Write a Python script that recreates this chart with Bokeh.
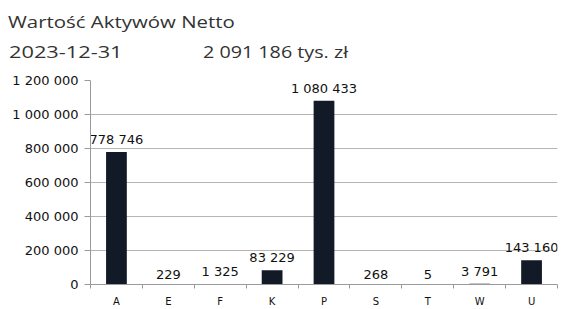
from bokeh.plotting import figure
from bokeh.models import FixedTicker, Range1d, ColumnDataSource, Div
from bokeh.layouts import column
from bokeh.core.properties import value
from bokeh.embed import file_html
from bokeh.resources import INLINE

title_text = "Wartość Aktywów Netto"
date_text = "2023-12-31"
total_text = "2 091 186 tys. zł"

categories = ["A", "E", "F", "K", "P", "S", "T", "W", "U"]
values = [778746, 229, 1325, 83229, 1080433, 268, 5, 3791, 143160]
y_ticks = [0, 200000, 400000, 600000, 800000, 1000000, 1200000]


def fmt(v):
    return f"{v:,}".replace(",", " ")


W, H_HEAD, H_CHART = 561, 62, 247

# ---- header ----
span = ("position:absolute;left:{x}px;top:{y}px;white-space:nowrap;line-height:17px;"
        "transform:scaleX({s});transform-origin:left top;")
html = (
    f'<div style="position:relative;width:{W}px;height:{H_HEAD}px;'
    "font-family:'Open Sans';font-size:17px;color:#333333;\">"
    f'<span style="{span.format(x=8, y=13, s=1.2)}">{title_text}</span>'
    f'<span style="{span.format(x=9, y=43, s=1.28)}">{date_text}</span>'
    f'<span style="{span.format(x=203, y=43, s=1.16)}">{total_text}</span>'
    "</div>"
)
head = Div(text=html, width=W, height=H_HEAD, margin=0)

# ---- chart ----
xs = [i + 0.5 for i in range(len(categories))]
src = ColumnDataSource(dict(x=xs, top=values, label=[fmt(v) for v in values]))

p = figure(width=W, height=H_CHART, output_backend="svg", toolbar_location=None,
           x_range=Range1d(0, len(categories)), y_range=Range1d(0, y_ticks[-1]),
           min_border_left=90, min_border_right=4, min_border_top=18, min_border_bottom=0,
           margin=0)
p.outline_line_color = None
p.background_fill_color = "white"
p.border_fill_color = "white"

p.vbar(x="x", top="top", width=0.4, source=src, fill_color="#121a28", line_color=None)
p.text(x="x", y="top", text="label", source=src, text_align="center", text_baseline="bottom",
       y_offset=-5, text_font_size="13px", text_color="#111111", text_font=value("DejaVu Sans"))

xa = p.xaxis[0]
xa.ticker = FixedTicker(ticks=xs, minor_ticks=list(range(len(categories) + 1)))
xa.major_label_overrides = {x: c for x, c in zip(xs, categories)}
xa.major_tick_line_color = None
xa.minor_tick_line_color = "#9a9a9a"
xa.minor_tick_out = 4
xa.minor_tick_in = 0
xa.axis_line_color = "#9a9a9a"
xa.major_label_text_font = "DejaVu Sans"
xa.major_label_text_font_size = "10px"
xa.major_label_text_color = "#111111"
xa.major_label_standoff = 5

ya = p.yaxis[0]
ya.ticker = FixedTicker(ticks=y_ticks)
ya.major_label_overrides = {t: fmt(t) for t in y_ticks}
ya.major_tick_out = 6
ya.major_tick_in = 0
ya.major_tick_line_color = "#9a9a9a"
ya.minor_tick_line_color = None
ya.axis_line_color = "#9a9a9a"
ya.major_label_text_font = "DejaVu Sans"
ya.major_label_text_font_size = "13px"
ya.major_label_text_color = "#111111"
ya.major_label_standoff = 6

p.xgrid.grid_line_color = None
p.ygrid.ticker = FixedTicker(ticks=y_ticks)
p.ygrid.grid_line_color = "#b5b5b5"

layout = column(head, p, spacing=0)
open("out.html", "w").write(file_html(layout, INLINE))
